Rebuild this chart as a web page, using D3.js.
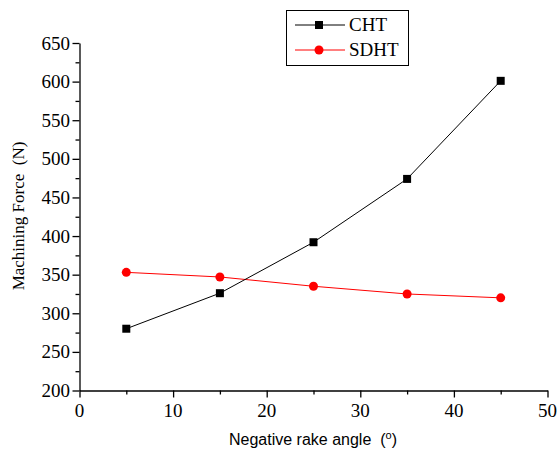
<!DOCTYPE html>
<html>
<head>
<meta charset="utf-8">
<script src="https://cdn.jsdelivr.net/npm/d3@7"></script>
<style>
  body { margin: 0; background: #fff; }
  text { fill: #000; white-space: pre; }
  .lbl { font-family: 'Liberation Serif', 'DejaVu Serif', serif; font-size: 19px; }
</style>
</head>
<body>
<script>
var angles = [5, 15, 25, 35, 45];
var cht = [280, 326, 392, 474, 601];
var sdht = [353, 347, 335, 325, 320];
var xTicks = [0, 10, 20, 30, 40, 50];
var yTicks = [200, 250, 300, 350, 400, 450, 500, 550, 600, 650];

var w = 557, h = 454;
var svg = d3.select("body").append("svg").attr("width", w).attr("height", h);

var x = d3.scaleLinear().domain([0, 50]).range([79.5, 547.5]);
var y = d3.scaleLinear().domain([200, 650]).range([390.5, 43]);

var serif = "'Liberation Serif', 'DejaVu Serif', serif";

// minor ticks
svg.append("g").attr("transform", "translate(0,390.5)")
  .call(d3.axisBottom(x).tickValues(d3.range(5, 50, 10)).tickSize(4).tickFormat(""))
  .call(function(g) { g.select(".domain").remove(); g.selectAll("text").remove(); });
svg.append("g").attr("transform", "translate(79.5,0)")
  .call(d3.axisLeft(y).tickValues(d3.range(225, 650, 50)).tickSize(4).tickFormat(""))
  .call(function(g) { g.select(".domain").remove(); g.selectAll("text").remove(); });

// major ticks + domain
svg.append("g").attr("transform", "translate(0,390.5)")
  .call(d3.axisBottom(x).tickValues(xTicks).tickSize(7).tickSizeOuter(0).tickFormat(""))
  .call(function(g) { g.selectAll("text").remove(); });
svg.append("g").attr("transform", "translate(79.5,0)")
  .call(d3.axisLeft(y).tickValues(yTicks).tickSize(7).tickSizeOuter(0).tickFormat(""))
  .call(function(g) { g.selectAll("text").remove(); });

svg.selectAll("g line, g path.domain").attr("stroke", "#000").attr("stroke-width", 1.3);

// tick labels
svg.append("g").selectAll("text").data(xTicks).enter().append("text")
  .attr("class", "lbl")
  .attr("x", function(d) { return x(d); })
  .attr("y", 417)
  .attr("text-anchor", "middle")
  .text(function(d) { return String(d); });
svg.append("g").selectAll("text").data(yTicks).enter().append("text")
  .attr("class", "lbl")
  .attr("x", 70)
  .attr("y", function(d) { return y(d) + 6.5; })
  .attr("text-anchor", "end")
  .text(function(d) { return String(d); });

// axis titles
svg.append("text")
  .attr("transform", "translate(24,216) rotate(-90)")
  .attr("text-anchor", "middle")
  .style("font-family", serif).style("font-size", "17px")
  .text("Machining Force  (N)");

var xt = svg.append("text")
  .attr("x", 313).attr("y", 445)
  .attr("text-anchor", "middle")
  .style("font-family", "'Liberation Sans', Arial, sans-serif").style("font-size", "16px");
xt.append("tspan").text("Negative rake angle  (");
xt.append("tspan").attr("dy", -6).style("font-size", "11px").text("o");
xt.append("tspan").attr("dy", 6).text(")");

// series
var line = d3.line().x(function(d) { return x(d[0]); }).y(function(d) { return y(d[1]); });

var chtPts = angles.map(function(a, i) { return [a, cht[i]]; });
var sdhtPts = angles.map(function(a, i) { return [a, sdht[i]]; });

svg.append("path").datum(sdhtPts).attr("d", line)
  .attr("fill", "none").attr("stroke", "red").attr("stroke-width", 1);
svg.append("path").datum(chtPts).attr("d", line)
  .attr("fill", "none").attr("stroke", "#000").attr("stroke-width", 1);

svg.selectAll("circle.s").data(sdhtPts).enter().append("circle")
  .attr("cx", function(d) { return x(d[0]); })
  .attr("cy", function(d) { return y(d[1]); })
  .attr("r", 4.5).attr("fill", "red");

svg.selectAll("rect.c").data(chtPts).enter().append("rect")
  .attr("x", function(d) { return x(d[0]) - 4; })
  .attr("y", function(d) { return y(d[1]) - 4; })
  .attr("width", 8).attr("height", 8).attr("fill", "#000");

// legend
var lg = svg.append("g");
lg.append("rect").attr("x", 286.5).attr("y", 10.5).attr("width", 122).attr("height", 55)
  .attr("fill", "#fff").attr("stroke", "#000").attr("stroke-width", 1);
lg.append("line").attr("x1", 295).attr("x2", 345).attr("y1", 25).attr("y2", 25).attr("stroke", "#000").attr("stroke-width", 1);
lg.append("rect").attr("x", 315).attr("y", 21).attr("width", 8).attr("height", 8).attr("fill", "#000");
lg.append("text").attr("x", 349).attr("y", 31).style("font-family", serif).style("font-size", "19px").text("CHT");
lg.append("line").attr("x1", 295).attr("x2", 345).attr("y1", 50).attr("y2", 50).attr("stroke", "red").attr("stroke-width", 1);
lg.append("circle").attr("cx", 319).attr("cy", 50).attr("r", 4.5).attr("fill", "red");
lg.append("text").attr("x", 349).attr("y", 56).style("font-family", serif).style("font-size", "19px").text("SDHT");
</script>
</body>
</html>
